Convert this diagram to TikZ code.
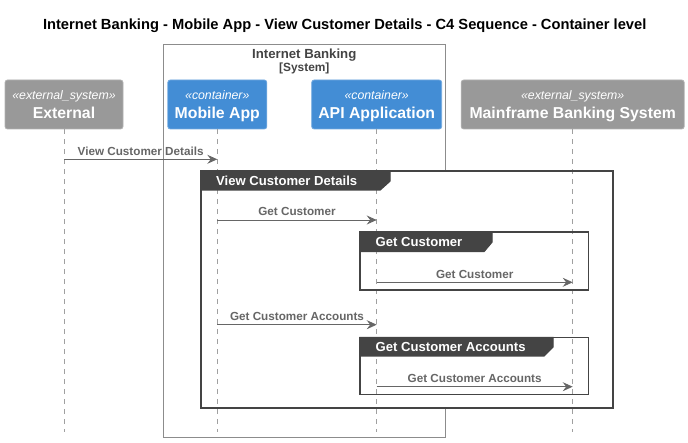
\documentclass[tikz,border=0pt]{standalone}
\usepackage{fontspec}
\setmainfont{Liberation Sans}
\usetikzlibrary{arrows.meta,positioning}

\definecolor{extgrey}{HTML}{999999}
\definecolor{contblue}{HTML}{438DD5}
\definecolor{msggrey}{HTML}{666666}
\definecolor{framedark}{HTML}{444444}
\definecolor{bndgrey}{HTML}{8C8C8C}
\definecolor{lifegrey}{HTML}{A0A0A0}

\newcommand{\fsz}[1]{\fontsize{#1}{#1}\selectfont}

\tikzset{
  participant/.style={rounded corners=2.5pt, minimum height=49pt, inner sep=0pt, line width=0.8pt},
  extsys/.style={participant, fill=extgrey, draw=extgrey!75!white},
  contbox/.style={participant, fill=contblue, draw=contblue!75!white},
  stereo/.style={anchor=base, inner sep=0pt, text=white, font=\itshape\fsz{12.3}},
  pname/.style={anchor=base, inner sep=0pt, text=white, font=\bfseries\fsz{15.8}},
  lifeline/.style={draw=lifegrey, dash pattern=on 5pt off 5pt, line width=0.8pt},
  msg/.style={draw=msggrey, line width=0.9pt, -{Stealth[length=10pt,width=9pt,inset=3.5pt]}},
  msglabel/.style={anchor=base, yshift=4pt, inner sep=0pt, text=msggrey, font=\bfseries\fsz{11.7}},
  grpframe/.style={draw=framedark, line width=1.4pt},
  grptab/.style={fill=framedark, draw=framedark, line width=1.4pt},
  tablabel/.style={anchor=base west, inner sep=0pt, text=white, font=\bfseries\fsz{13.1}},
}

\begin{document}
\begin{tikzpicture}[x=1pt,y=-1pt]

  % Picture size (one pixel per point)
  \useasboundingbox (0,0) rectangle (688,443);

  % Lifeline positions
  \def\xext{64}     % External
  \def\xmob{217.3}  % Mobile App
  \def\xapi{376.7}  % API Application
  \def\xmf{572.7}   % Mainframe Banking System

  % Title
  \node[anchor=base, inner sep=0pt, font=\bfseries\fsz{14.7}] (title) at (344.7,29.5)
    {Internet Banking - Mobile App - View Customer Details - C4 Sequence - Container level};

  % System boundary round the two containers
  \draw[draw=bndgrey, line width=0.9pt] (163.5,44.3) rectangle (445,437.3);
  \node[anchor=base, inner sep=0pt, text=framedark, font=\bfseries\fsz{13.2}] (bnd-name)
    at (304.3,58.3) {Internet Banking};
  \node[anchor=base, inner sep=0pt, text=framedark, font=\bfseries\fsz{11.9}] (bnd-type)
    at (304.3,72) {[System]};

  % Participants
  \node[extsys, minimum width=118pt] (ext) at (\xext,104.5) {};
  \node[stereo] (ext-st) at (\xext,100) {«external\_system»};
  \node[pname]  (ext-nm) at (\xext,119) {External};

  \node[contbox, minimum width=99pt] (mob) at (\xmob,104.5) {};
  \node[stereo] (mob-st) at (\xmob,100) {«container»};
  \node[pname]  (mob-nm) at (\xmob,119) {Mobile App};

  \node[contbox, minimum width=130pt] (api) at (\xapi,104.5) {};
  \node[stereo] (api-st) at (\xapi,100) {«container»};
  \node[pname]  (api-nm) at (\xapi,119) {API Application};

  \node[extsys, minimum width=223pt] (mf) at (\xmf,104.5) {};
  \node[stereo] (mf-st) at (\xmf,100) {«external\_system»};
  \node[pname]  (mf-nm) at (\xmf,119) {Mainframe Banking System};

  % Outer group background hides the boundary line
  \fill[white] (201,171) rectangle (613,408);

  % Lifelines
  \coordinate (bot) at (0,432);
  \draw[lifeline] (ext) -- (ext |- bot);
  \draw[lifeline] (mob) -- (mob |- bot);
  \draw[lifeline] (api) -- (api |- bot);
  \draw[lifeline] (mf) -- (mf |- bot);

  % Group frames and their tabs
  \draw[grpframe] (201,171) rectangle (613,408);
  \path[grptab] (201,171) -- (390,171) -- (390,181) -- (380,190) -- (201,190) -- cycle;
  \node[tablabel] (grp-view) at (216,185.5) {View Customer Details};

  \draw[grpframe] (360,232) rectangle (588.5,290);
  \path[grptab] (360,232) -- (492,232) -- (492,242) -- (484,251.5) -- (360,251.5) -- cycle;
  \node[tablabel] (grp-cust) at (375.5,247) {Get Customer};

  \draw[grpframe] (360,337.5) rectangle (588.5,394.5);
  \path[grptab] (360,337.5) -- (553,337.5) -- (553,347) -- (544,356) -- (360,356) -- cycle;
  \node[tablabel] (grp-acc) at (375.5,352) {Get Customer Accounts};

  % Messages
  \coordinate (m1) at (0,159.3);
  \coordinate (m2) at (0,220);
  \coordinate (m3) at (0,282.3);
  \coordinate (m4) at (0,324.7);
  \coordinate (m5) at (0,386.7);
  \draw[msg] (ext |- m1) -- node[msglabel] {View Customer Details} (mob |- m1);
  \draw[msg] (mob |- m2) -- node[msglabel] {Get Customer} (api |- m2);
  \draw[msg] (api |- m3) -- node[msglabel] {Get Customer} (mf |- m3);
  \draw[msg] (mob |- m4) -- node[msglabel] {Get Customer Accounts} (api |- m4);
  \draw[msg] (api |- m5) -- node[msglabel] {Get Customer Accounts} (mf |- m5);

\end{tikzpicture}
\end{document}
